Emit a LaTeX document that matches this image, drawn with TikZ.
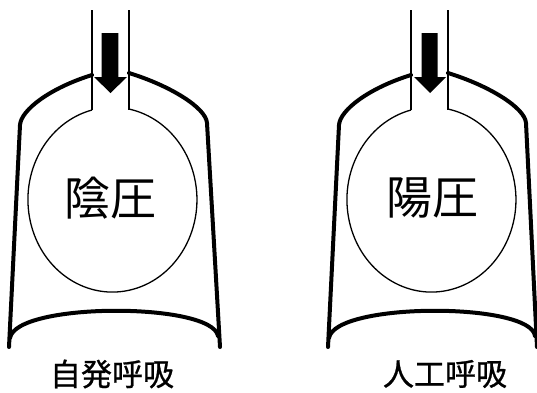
\documentclass[tikz,border=0pt]{standalone}
\usepackage{fontspec}
\newfontfamily\jpfont{Noto Sans CJK JP}
\newfontfamily\jpcapfont{Noto Sans CJK JP}[FakeBold=0.8]
\begin{document}
\begin{tikzpicture}[x=1pt,y=-1pt,
  shell/.style={line width=4pt, line cap=round, line join=round},
  airway/.style={line width=2pt},
  lung/.style={line width=1.3pt},
  flow/.style={fill=black},
  pressure/.style={font=\jpfont\fontsize{46}{46}\selectfont, inner sep=0pt},
  caption/.style={font=\jpcapfont\fontsize{31}{31}\selectfont, inner sep=0pt}]
\useasboundingbox (0,0) rectangle (537,392);

% spontaneous breathing: chest wall, airway, lung, inflow
\begin{scope}
  \draw[shell] (9,347) -- (20,125) .. controls (21,110) and (50,88) .. (92,75);
  \draw[shell] (129,73) .. controls (171,86) and (206,108) .. (207,123) -- (220,347);
  \draw[shell] (10,338) .. controls (16,302) and (212,302) .. (218,336);
  \coordinate (aL) at (92,110);
  \coordinate (aR) at (129,110);
  \draw[airway] (92,10) -- (aL);
  \draw[airway] (129,10) -- (aR);
  \draw[lung] (aL) arc[start angle=104, end angle=439, x radius=84.5pt, y radius=92.4pt];
  \fill[flow] (101.7,33) -- (118.3,33) -- (118.3,77) -- (127,77) -- (110.5,93)
    -- (94,77) -- (101.7,77) -- cycle;
  \node[pressure] (neg) at (110.5,198) {陰圧};
  \node[caption] (spont) at (112,374) {自発呼吸};
\end{scope}

% mechanical ventilation: same chest, positive pressure
\begin{scope}[shift={(319,0)}]
  \draw[shell] (9,347) -- (20,125) .. controls (21,110) and (50,88) .. (92,75);
  \draw[shell] (129,73) .. controls (171,86) and (206,108) .. (207,123) -- (218,347);
  \draw[shell] (10,338) .. controls (16,302) and (212,302) .. (216,336);
  \coordinate (bL) at (92,110);
  \coordinate (bR) at (129,110);
  \draw[airway] (92,10) -- (bL);
  \draw[airway] (129,10) -- (bR);
  \draw[lung] (bL) arc[start angle=104, end angle=439, x radius=84.5pt, y radius=92.4pt];
  \fill[flow] (102.5,33) -- (118.5,33) -- (118.5,77) -- (127,77) -- (111,93)
    -- (95,77) -- (102.5,77) -- cycle;
  \node[pressure] (pos) at (113,198) {陽圧};
  \node[caption] (mech) at (126,374) {人工呼吸};
\end{scope}
\end{tikzpicture}
\end{document}
